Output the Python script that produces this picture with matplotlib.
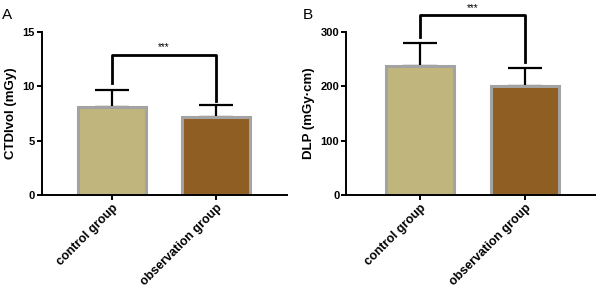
import numpy as np
import matplotlib.pyplot as plt

plt.rcParams['font.family'] = ['Liberation Sans', 'DejaVu Sans']

groups = ['control group', 'observation group']
ctdi_mean = [8.1, 7.15]
ctdi_sd = [1.55, 1.13]
dlp_mean = [237, 201]
dlp_sd = [43, 33]
colors = ['#BFB57D', '#8F5E22']

fig = plt.figure(figsize=(6, 2.92), dpi=100)
axA = fig.add_axes([0.07, 0.332, 0.408, 0.558])
axB = fig.add_axes([0.577, 0.332, 0.415, 0.558])


def panel(ax, means, sds, ylim, yticks, ylabel, xlim, bracket, letter, letter_xy):
    x = np.arange(len(groups))
    ax.bar(x, means, width=0.65, color=colors, edgecolor='#A3A3A3', linewidth=2.2, zorder=2)
    ax.errorbar(x, means, yerr=[[0, 0], sds], fmt='none', ecolor='black',
                elinewidth=1.6, capsize=12, capthick=1.6, zorder=1)
    top, ldrop, rdrop = bracket
    ax.plot([x[0], x[0], x[1], x[1]], [ldrop, top, top, rdrop], color='black', lw=2,
            clip_on=False, zorder=3)
    ax.text(0.5, top + (ylim[1] - ylim[0]) * 0.015, '***', ha='center', va='bottom',
            fontsize=7, clip_on=False)
    ax.set_xlim(*xlim)
    ax.set_ylim(*ylim)
    ax.set_yticks(yticks)
    ax.set_xticks(x)
    ax.set_xticklabels(groups, rotation=45, ha='right', rotation_mode='anchor',
                       fontweight='bold', fontsize=9)
    for t in ax.get_yticklabels():
        t.set_fontweight('bold')
        t.set_fontsize(8)
    ax.set_ylabel(ylabel, fontweight='bold', fontsize=9.5, labelpad=4)
    for s in ['top', 'right']:
        ax.spines[s].set_visible(False)
    for s in ['left', 'bottom']:
        ax.spines[s].set_linewidth(1.4)
    ax.tick_params(width=1.4, length=3.5, pad=1.5)
    fig.text(letter_xy[0], letter_xy[1], letter, fontsize=11)


panel(axA, ctdi_mean, ctdi_sd, (0, 15), [0, 5, 10, 15], 'CTDIvol (mGy)',
      (-0.673, 1.68), (12.9, 10.3, 8.7), 'A', (0.003, 0.935))
panel(axB, dlp_mean, dlp_sd, (0, 300), [0, 100, 200, 300], 'DLP (mGy·cm)',
      (-0.708, 1.675), (331, 291, 245), 'B', (0.505, 0.935))

fig.savefig('out.png', dpi=100)
